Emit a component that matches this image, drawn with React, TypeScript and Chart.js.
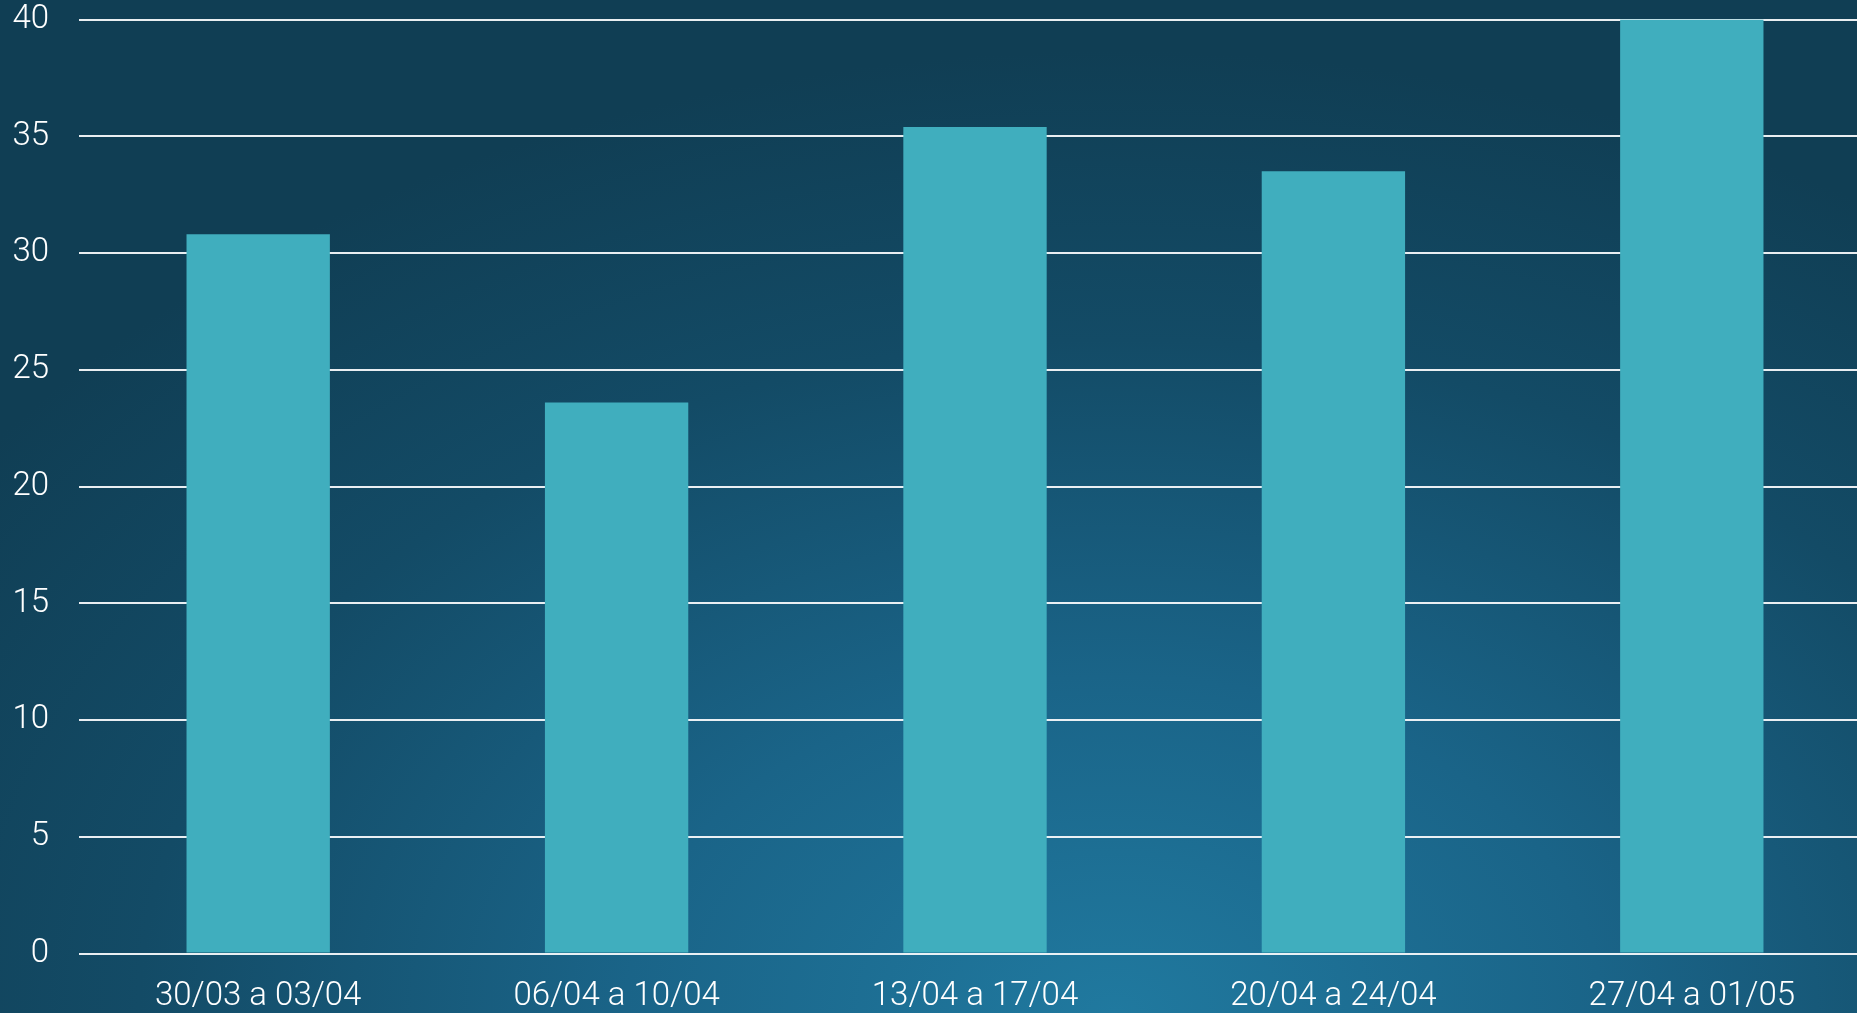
import React, { useEffect, useRef } from "react";
import { Chart, registerables } from "chart.js";

Chart.register(...registerables);

const categories = ["30/03 a 03/04", "06/04 a 10/04", "13/04 a 17/04", "20/04 a 24/04", "27/04 a 01/05"];
const values = [30.8, 23.6, 35.4, 33.5, 40];
const yMin = 0;
const yMax = 40;
const yStep = 5;

export default function App() {
  const ref = useRef<HTMLCanvasElement>(null);

  useEffect(() => {
    document.body.style.margin = "0";
    document.body.style.overflow = "hidden";
    const font = { family: "Roboto", size: 33, weight: "300" as any };
    const chart = new Chart(ref.current as HTMLCanvasElement, {
      type: "bar",
      data: {
        labels: categories,
        datasets: [
          {
            data: values,
            backgroundColor: "#40aebe",
            borderWidth: 0,
            categoryPercentage: 1,
            barPercentage: 0.4,
          },
        ],
      },
      options: {
        responsive: false,
        animation: false,
        devicePixelRatio: 1,
        layout: { padding: { top: 0, left: 0, right: 0, bottom: 0 } },
        plugins: { legend: { display: false }, tooltip: { enabled: false } },
        scales: {
          x: {
            grid: { display: false, drawTicks: false },
            border: { display: false },
            ticks: { color: "#ffffff", font, padding: 23, maxRotation: 0, autoSkip: false },
            afterFit: (s: any) => {
              s.height = 59.5;
              s.paddingLeft = 0;
              s.paddingRight = 0;
            },
          },
          y: {
            min: yMin,
            max: yMax,
            ticks: { stepSize: yStep, color: "#ffffff", font, padding: 30 },
            grid: { color: "rgba(245,248,250,0.95)", lineWidth: 2, drawTicks: false },
            border: { display: false },
            afterFit: (s: any) => {
              s.width = 79;
              s.paddingTop = 19.5;
              s.paddingBottom = 0;
            },
          },
        },
      },
    });
    return () => chart.destroy();
  }, []);

  return (
    <div
      style={{
        position: "fixed",
        left: 0,
        top: 0,
        width: 1857,
        height: 1013,
        overflow: "hidden",
        background:
          "radial-gradient(ellipse 75% 95% at 60% 100%, #20799f 0%, #1a6488 35%, #134b66 70%, #103e54 100%)",
      }}
    >
      <canvas ref={ref} width={1871} height={1013} style={{ display: "block", width: 1871, height: 1013 }} />
    </div>
  );
}
